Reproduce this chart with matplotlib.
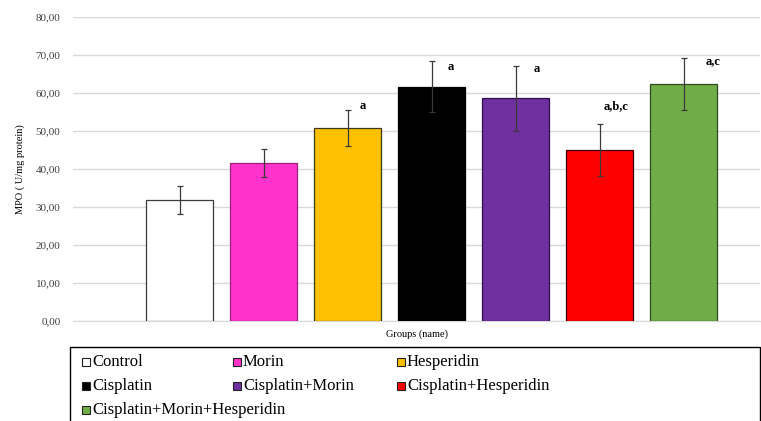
import matplotlib.pyplot as plt
from matplotlib.patches import Rectangle
from matplotlib.ticker import FuncFormatter

# data
groups = ["Control", "Morin", "Hesperidin", "Cisplatin", "Cisplatin+Morin",
          "Cisplatin+Hesperidin", "Cisplatin+Morin+Hesperidin"]
mpo_mean = [31.8, 41.6, 50.8, 61.7, 58.6, 45.0, 62.4]
mpo_err = [3.7, 3.6, 4.7, 6.7, 8.5, 6.8, 6.8]
sig_labels = ["", "", "a", "a", "a", "a,b,c", "a,c"]

colors = ["#FFFFFF", "#FF33CC", "#FFC000", "#000000", "#7030A0", "#FF0000", "#70AD47"]
edges = ["#3a3a3a", "#9c1f78", "#3a3a1a", "#000000", "#2e0f4a", "#3a0000", "#2f4a1f"]
# offsets (pt) of each significance letter relative to the error-bar top
sig_dx = [0, 0, 11, 14, 15, 12, 21]
sig_dy = [0, 0, 3, -4, -2, 13, -2]

plt.rcParams["font.family"] = ["Liberation Serif", "DejaVu Serif"]

fig = plt.figure(figsize=(7.61, 4.21), dpi=100)
ax = fig.add_axes([73 / 761, 100 / 421, 687 / 761, 304 / 421])

x = list(range(len(groups)))
ax.bar(x, mpo_mean, width=0.79, color=colors, edgecolor=edges, linewidth=0.9, zorder=3)
ax.errorbar(x, mpo_mean, yerr=mpo_err, fmt="none", ecolor="#3a3a3a",
            elinewidth=0.9, capsize=2.5, capthick=0.9, zorder=4)

for i, lab in enumerate(sig_labels):
    if lab:
        ax.annotate(lab, (i, mpo_mean[i] + mpo_err[i]), xytext=(sig_dx[i], sig_dy[i]),
                    textcoords="offset points", ha="center", va="center",
                    fontsize=9, fontweight="bold")

ax.set_xlim(-1.27, 6.91)
ax.set_ylim(0, 80)
ax.set_yticks(range(0, 81, 10))
ax.yaxis.set_major_formatter(FuncFormatter(lambda v, p: f"{v:.2f}".replace(".", ",")))
ax.tick_params(axis="y", length=0, labelsize=8, pad=9, colors="#404040")
ax.set_xticks([])
ax.grid(axis="y", color="#d9d9d9", linewidth=1, zorder=0)
ax.set_axisbelow(True)
for s in ["top", "right", "left"]:
    ax.spines[s].set_visible(False)
ax.spines["bottom"].set_color("#d9d9d9")
ax.set_ylabel("MPO ( U/mg protein)", fontsize=7.5, labelpad=8)
ax.set_xlabel("Groups (name)", fontsize=7.5, labelpad=6)

# legend box, drawn by hand to match the Excel layout
fig.patches.append(Rectangle((70 / 761, -0.02), 690 / 761, (421 - 347) / 421 + 0.02,
                             transform=fig.transFigure, facecolor="white",
                             edgecolor="black", linewidth=1))
col_x = [82, 233, 397]
row_y = [362, 386, 410]
for i, g in enumerate(groups):
    cx = col_x[i % 3]
    cy = row_y[i // 3]
    fig.patches.append(Rectangle((cx / 761, (421 - cy - 4) / 421), 8 / 761, 8 / 421,
                                 transform=fig.transFigure, facecolor=colors[i],
                                 edgecolor="#222222", linewidth=0.8))
    fig.text((cx + 10) / 761, (421 - cy) / 421, g, fontsize=12, va="center", ha="left")

fig.savefig("out.png", dpi=100)
